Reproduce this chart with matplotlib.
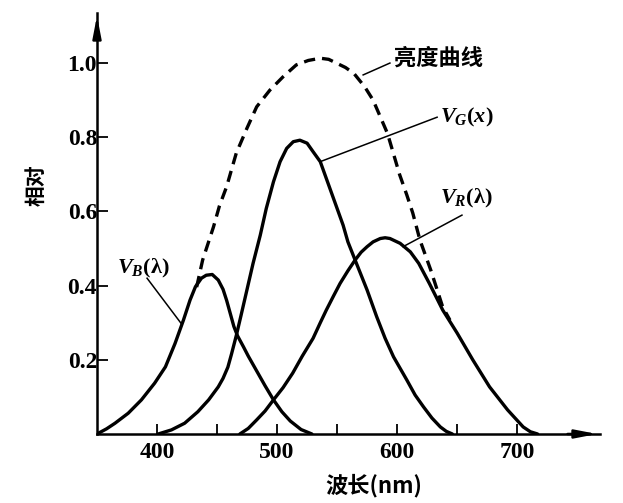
import matplotlib
matplotlib.use("Agg")
import matplotlib.pyplot as plt

plt.rcParams['mathtext.fontset'] = 'custom'
plt.rcParams['mathtext.it'] = 'Liberation Serif:italic:bold'
plt.rcParams['mathtext.rm'] = 'Liberation Serif:bold'
plt.rcParams['mathtext.bf'] = 'Liberation Serif:bold'

# curves (wavelength nm, relative value)
blue_wl = [350, 358, 365, 376, 387, 398, 407, 415, 422, 427.5, 432, 437, 441, 446, 451, 455, 458, 461, 464, 467,
           472, 476, 483, 490, 497, 504, 511, 520, 529]
blue_v = [0, 0.014, 0.029, 0.056, 0.092, 0.137, 0.181, 0.244, 0.307, 0.361, 0.397, 0.42, 0.428, 0.43, 0.415, 0.39, 0.36, 0.325, 0.29, 0.265,
          0.235, 0.21, 0.17, 0.13, 0.092, 0.06, 0.035, 0.012, 0]

green_wl = [401, 412, 423, 434, 443, 451, 455, 459, 462, 466, 470, 475, 480, 486, 491, 497, 502.5, 508, 513.5, 519,
            525, 530, 536, 541, 548, 555, 559, 565, 575, 583, 590, 597, 608, 615, 622, 629, 636, 641, 646]
green_v = [0, 0.011, 0.029, 0.06, 0.092, 0.127, 0.15, 0.18, 0.215, 0.265, 0.32, 0.39, 0.46, 0.536, 0.608, 0.68, 0.734, 0.77, 0.788, 0.792,
           0.784, 0.761, 0.734, 0.689, 0.626, 0.563, 0.518, 0.469, 0.388, 0.316, 0.258, 0.208, 0.146, 0.105, 0.073, 0.043, 0.019, 0.007, 0]

red_wl = [469, 476, 483, 490, 497, 505, 513, 521, 530, 536, 541, 547, 552.5, 559, 565, 570, 575, 580, 586, 590,
          594, 602.5, 611, 618, 627, 638, 650, 663, 677, 692, 705, 711, 717]
red_v = [0, 0.015, 0.038, 0.062, 0.092, 0.125, 0.164, 0.21, 0.258, 0.3, 0.334, 0.372, 0.406, 0.44, 0.469, 0.49, 0.505, 0.518, 0.527, 0.529,
         0.527, 0.514, 0.491, 0.46, 0.405, 0.334, 0.272, 0.2, 0.127, 0.065, 0.019, 0.006, 0]

lum_wl = [433, 438, 447, 452, 458, 466, 475, 483, 494, 505, 516, 526, 536, 543, 550, 557, 564, 573, 580, 586,
          592, 597, 602, 608, 613, 619, 628, 638, 644]
lum_v = [0.396, 0.469, 0.558, 0.615, 0.667, 0.757, 0.825, 0.882, 0.927, 0.963, 0.995, 1.007, 1.013, 1.01, 0.999, 0.988, 0.972, 0.936, 0.90, 0.855,
         0.81, 0.755, 0.70, 0.645, 0.596, 0.523, 0.442, 0.342, 0.307]

xticks_major = [400, 500, 600, 700]
xticks_minor = [450, 550, 650]
yticks = [0.2, 0.4, 0.6, 0.8, 1.0]
ytick_labels = ['0.2', '0.4', '0.6', '0.8', '1.0']

fig = plt.figure(figsize=(6.23, 5.03), dpi=100)
ax = fig.add_axes([0.1557, 0.1372, 0.8074, 0.837])

curve_style = dict(color='k', lw=2.4, solid_capstyle='round', solid_joinstyle='round')
ax.plot(blue_wl, blue_v, **curve_style)
ax.plot(green_wl, green_v, **curve_style)
ax.plot(red_wl, red_v, **curve_style)
ax.plot(lum_wl, lum_v, color='k', lw=2.4, dashes=(3.4, 2.1), dash_joinstyle='round')

ax.set_xlim(350, 769)
ax.set_ylim(0, 1.135)

ax.spines['top'].set_visible(False)
ax.spines['right'].set_visible(False)
ax.spines['left'].set_linewidth(1.8)
ax.spines['bottom'].set_linewidth(1.8)

ax.set_xticks(xticks_major)
ax.set_xticks(xticks_minor, minor=True)
ax.set_yticks(yticks)
ax.set_yticklabels(ytick_labels)
ax.tick_params(axis='x', which='both', direction='in', length=7, width=1.3, pad=6)
ax.tick_params(axis='y', direction='in', length=8, width=1.3, pad=0)
for lab in ax.get_xticklabels() + ax.get_yticklabels():
    lab.set_fontfamily('Liberation Serif')
    lab.set_fontweight('bold')
    lab.set_fontsize(17)

# axis arrows
ax.annotate('', xy=(1.0, 0), xytext=(0.93, 0), xycoords='axes fraction',
            arrowprops=dict(arrowstyle='-|>,head_length=1.3,head_width=0.25', lw=1.8, color='k'))
ax.annotate('', xy=(0, 1.0), xytext=(0, 0.93), xycoords='axes fraction',
            arrowprops=dict(arrowstyle='-|>,head_length=1.3,head_width=0.25', lw=1.8, color='k'))

cjk = ['Noto Sans CJK SC', 'DejaVu Sans']
ax.set_xlabel('波长(nm)', family=cjk, fontweight='bold', fontsize=16)
ax.xaxis.set_label_coords(0.55, -0.095)
ax.set_ylabel('相对', family=cjk, fontweight='bold', fontsize=15)
ax.yaxis.set_label_coords(-0.1, 0.59)

# labels and leader lines
ax.text(597, 1.013, '亮度曲线', family=cjk, fontweight='bold', fontsize=16, va='center', ha='left')
ax.plot([571.7, 594], [0.968, 1.0], color='k', lw=1.1)

ax.text(636, 0.852, r'$V_G(x)$', fontsize=16, va='center', ha='left')
ax.plot([535.8, 633.3], [0.734, 0.854], color='k', lw=1.1)

ax.text(636, 0.636, r'$V_R(\mathrm{\lambda})$', fontsize=16, va='center', ha='left')
ax.plot([605, 654], [0.505, 0.59], color='k', lw=1.1)

ax.text(366.7, 0.447, r'$V_B(\mathrm{\lambda})$', fontsize=16, va='center', ha='left')
ax.plot([391.7, 420.8], [0.42, 0.295], color='k', lw=1.1)

plt.savefig('out.png', dpi=100)
